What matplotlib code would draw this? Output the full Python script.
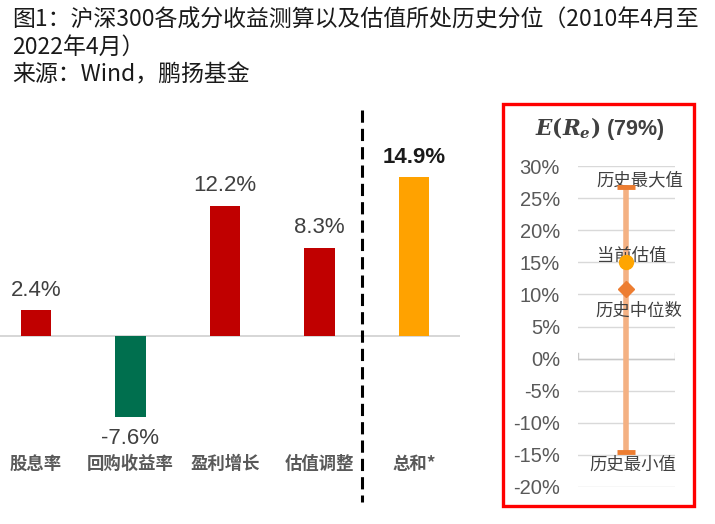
import matplotlib
matplotlib.use("Agg")
import matplotlib.pyplot as plt
from matplotlib.patches import Rectangle
from matplotlib.transforms import blended_transform_factory

plt.rcParams['font.family'] = ['Noto Sans CJK SC', 'DejaVu Sans']
plt.rcParams['mathtext.fontset'] = 'custom'
plt.rcParams['mathtext.it'] = 'DejaVu Serif:italic:bold'
plt.rcParams['mathtext.rm'] = 'DejaVu Serif:bold'

# ---- data ----
categories = ["股息率", "回购收益率", "盈利增长", "估值调整", "总和*"]
values = [2.4, -7.6, 12.2, 8.3, 14.9]
value_labels = ["2.4%", "-7.6%", "12.2%", "8.3%", "14.9%"]
bar_colors = ["#c00000", "#006f4e", "#c00000", "#c00000", "#ffa200"]

er_ticks = [30, 25, 20, 15, 10, 5, 0, -5, -10, -15, -20]
hist_max = 26.7
hist_min = -14.6
current_val = 15.0
hist_median = 10.8
point_labels = ["历史最大值", "当前估值", "历史中位数", "历史最小值"]

W, H = 715, 524
fig = plt.figure(figsize=(W / 100, H / 100), dpi=100)

def fx(px):
    return px / W

def fy(py):
    return 1 - py / H

# ---- title ----
title_kw = dict(fontsize=16.5, color="#1a1a1a", family=['Noto Sans CJK SC', 'DejaVu Sans'], va='center', ha='left')
fig.text(fx(12), fy(20), "图1：沪深300各成分收益测算以及估值所处历史分位（2010年4月至", **title_kw)
fig.text(fx(12), fy(47), "2022年4月）", **title_kw)
fig.text(fx(12), fy(75), "来源：Wind，鹏扬基金", **title_kw)

# ---- left bar chart ----
px_per_pct = 10.66
zero_px = 336
top_px, bot_px = 100, 440
ax = fig.add_axes([0, fy(bot_px), fx(460), (bot_px - top_px) / H])
x = list(range(len(categories)))
ax.bar(x, values, width=0.32, color=bar_colors, zorder=3)
ax.set_xlim(-36 / 94.5, (460 - 36) / 94.5)
ax.set_ylim(-(bot_px - zero_px) / px_per_pct, (zero_px - top_px) / px_per_pct)
ax.axhline(0, color="#d0d0d0", lw=1.2, zorder=2)
for s in ax.spines.values():
    s.set_visible(False)
ax.set_yticks([])
ax.set_xticks(x)
ax.set_xticklabels(categories, fontsize=12.5, color="#595959", fontweight='bold')
ax.tick_params(axis='x', length=0, pad=11)

for i, (v, lab) in enumerate(zip(values, value_labels)):
    bold = (i == len(values) - 1)
    off = 14.5 if v >= 0 else -15.5
    ax.annotate(lab, (i, v), xytext=(0, off), textcoords='offset points',
                ha='center', va='center', fontsize=16,
                family=['Liberation Sans', 'DejaVu Sans'],
                color="#1a1a1a" if bold else "#404040",
                fontweight='bold' if bold else 'normal')

# dashed separator
trans = blended_transform_factory(ax.transData, fig.transFigure)
ax.plot([(362 - 36) / 94.5] * 2, [fy(110), fy(502)], transform=trans,
        color="black", lw=2.2, ls=(0, (4, 2)), clip_on=False, zorder=4)

# ---- right panel ----
fig.add_artist(Rectangle((fx(503), fy(506)), fx(694) - fx(503), fy(104) - fy(506),
                         transform=fig.transFigure, fill=False, ec="#ff0000", lw=2.4))

fig.text(fx(600), fy(129), r"$E(R_{e})$ (79%)", ha='center', va='center',
         fontsize=15.5, color="#404040", fontweight='bold',
         family=['Liberation Sans', 'DejaVu Sans'])

ax2 = fig.add_axes([fx(578), fy(487), fx(675) - fx(578), (487 - 166) / H])
ax2.set_xlim(0, 1)
ax2.set_ylim(-20, 30)
ax2.set_yticks(er_ticks)
ax2.set_yticklabels([f"{t}%" for t in er_ticks], fontsize=14.5,
                    family=['Liberation Sans', 'DejaVu Sans'], color="#595959")
ax2.tick_params(axis='y', length=0, pad=13)
ax2.set_xticks([])
for s in ax2.spines.values():
    s.set_visible(False)
for t in er_ticks:
    ax2.axhline(t, color="#d9d9d9", lw=1.0, zorder=1)
ax2.axhline(0, color="#c8c8c8", lw=1.0, zorder=1)
ax2.plot([0, 0], [0, 0.8], color="#c8c8c8", lw=1.0)
ax2.plot([1, 1], [0, 0.8], color="#c8c8c8", lw=1.0)

cx = 0.495
ax2.plot([cx, cx], [hist_min, hist_max], color="#f4b183", lw=4, zorder=3, solid_capstyle='butt')
ax2.plot([cx - 0.09, cx + 0.09], [hist_max, hist_max], color="#ed7d31", lw=3.5, zorder=4, solid_capstyle='butt')
ax2.plot([cx - 0.09, cx + 0.09], [hist_min, hist_min], color="#ed7d31", lw=3.5, zorder=4, solid_capstyle='butt')
ax2.plot([cx], [current_val], 'o', color="#ffa500", ms=10, zorder=5, mec="#ffa500")
ax2.plot([cx], [hist_median], 'D', color="#ed7d31", ms=8, zorder=5)

lab_kw = dict(ha='center', va='center', fontsize=12.5, color="#404040", clip_on=False)
ax2.text((640 - 578) / 97, hist_max + (186.6 - 180) / 6.42, point_labels[0], **lab_kw)
ax2.text((632 - 578) / 97, current_val + (262 - 256) / 6.42, point_labels[1], **lab_kw)
ax2.text((639 - 578) / 97, hist_median - (311 - 289.3) / 6.42, point_labels[2], **lab_kw)
ax2.text((633 - 578) / 97, hist_min - (465 - 452.3) / 6.42, point_labels[3], **lab_kw)

fig.savefig("out.png", dpi=100)
